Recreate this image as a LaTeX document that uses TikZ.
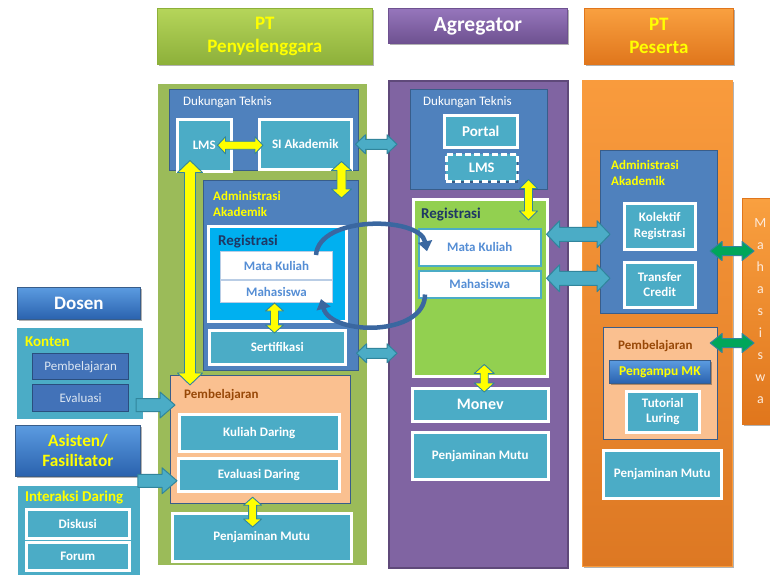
\documentclass[tikz,border=0pt]{standalone}
\usepackage{fontspec}
\setmainfont{Carlito}
\usetikzlibrary{calc,arrows.meta,shadows}

\definecolor{tealb}{HTML}{4BACC6}
\definecolor{tealdk}{HTML}{31859C}
\definecolor{blueb}{HTML}{4F81BD}
\definecolor{bluedk}{HTML}{385D8A}
\definecolor{greenc}{HTML}{9BBB59}
\definecolor{purplec}{HTML}{8064A2}
\definecolor{purpledk}{HTML}{5F497A}
\definecolor{peach}{HTML}{FAC090}
\definecolor{brownt}{HTML}{984807}
\definecolor{cyanr}{HTML}{00B0F0}
\definecolor{limeg}{HTML}{92D050}
\definecolor{navyt}{HTML}{1F3864}
\definecolor{mkblue}{HTML}{558ED5}
\definecolor{mkborder}{HTML}{B9CDE5}
\definecolor{curvb}{HTML}{3A67A0}
\definecolor{greena}{HTML}{00A65A}
\definecolor{yel}{HTML}{FFFF00}
\definecolor{kblue}{HTML}{4272B8}
\definecolor{kbluedk}{HTML}{2A4E7E}
\definecolor{ktext}{HTML}{DCE6F2}
\definecolor{gradT}{HTML}{5B9BE0}
\definecolor{gradB}{HTML}{2A62AE}
\definecolor{grnT}{HTML}{B5D55A}
\definecolor{grnB}{HTML}{8DB03A}
\definecolor{purT}{HTML}{9676BC}
\definecolor{purB}{HTML}{6E5190}
\definecolor{orT}{HTML}{F9A040}
\definecolor{orB}{HTML}{E0761C}
\definecolor{colOT}{HTML}{F99B3D}
\definecolor{colOB}{HTML}{DD7823}
\definecolor{mhstext}{HTML}{FDEADA}

\newcommand\myfHdr{\fontsize{19}{23}\selectfont\bfseries}
\newcommand\myfAg{\fontsize{21.5}{24}\selectfont\bfseries}
\newcommand\myfBox{\fontsize{13}{15.5}\selectfont\bfseries}
\newcommand\myfReg{\fontsize{13}{15.5}\selectfont}
\newcommand\myfRegi{\fontsize{15}{17}\selectfont\bfseries}
\newcommand\myfBig{\fontsize{15}{17}\selectfont\bfseries}

% horizontal double arrow: style, start, end, shaft half, head half, head length
\newcommand\myHD[6]{\path[#1] let \p1=(#2), \p2=(#3) in
 (\x1,\y1) -- (\x1+#6,\y1+#5) -- (\x1+#6,\y1+#4) -- (\x2-#6,\y1+#4) -- (\x2-#6,\y1+#5) -- (\x2,\y1)
 -- (\x2-#6,\y1-#5) -- (\x2-#6,\y1-#4) -- (\x1+#6,\y1-#4) -- (\x1+#6,\y1-#5) -- cycle;}
% vertical double arrow: start (top), end (bottom)
\newcommand\myVD[6]{\path[#1] let \p1=(#2), \p2=(#3) in
 (\x1,\y1) -- (\x1+#5,\y1-#6) -- (\x1+#4,\y1-#6) -- (\x1+#4,\y2+#6) -- (\x1+#5,\y2+#6) -- (\x1,\y2)
 -- (\x1-#5,\y2+#6) -- (\x1-#4,\y2+#6) -- (\x1-#4,\y1-#6) -- (\x1-#5,\y1-#6) -- cycle;}
% horizontal single arrow, at height of end
\newcommand\myHS[6]{\path[#1] let \p1=(#2), \p2=(#3) in
 (\x1,\y2+#4) -- (\x2-#6,\y2+#4) -- (\x2-#6,\y2+#5) -- (\x2,\y2) -- (\x2-#6,\y2-#5) -- (\x2-#6,\y2-#4) -- (\x1,\y2-#4) -- cycle;}

\begin{document}
\begin{tikzpicture}[x=1pt,y=-1pt,
  sz/.style 2 args={minimum width=#1pt, minimum height=#2pt},
  bx/.style={anchor=north west, inner sep=0pt, align=center, font=\myfBox, text=white},
  shd/.style={drop shadow={shadow xshift=1.2pt, shadow yshift=-1.5pt, opacity=0.3, fill=black}},
  hdr/.style={bx, font=\myfHdr, text=yel, line width=0.8pt, shd},
  tealbox/.style={bx, fill=tealb, draw=white, line width=2.5pt, shd},
  bluebox/.style={bx, fill=blueb, draw=bluedk, line width=1pt},
  peachbox/.style={bx, fill=peach, draw=bluedk, line width=1.2pt},
  gradbox/.style={bx, top color=gradT, bottom color=gradB, draw=bluedk, line width=0.8pt, shd},
  kbox/.style={bx, fill=kblue, draw=kbluedk, line width=1.3pt, text=ktext, font=\myfReg},
  wbox/.style={bx, fill=white, text=mkblue},
  ttl/.style={anchor=west, inner sep=0pt, font=\myfBox, align=left},
  yarrow/.style={fill=yel, draw=tealdk, line width=0.9pt, line join=round},
  tarrow/.style={fill=tealb, draw=tealdk, line width=1pt, line join=round},
  garrow/.style={fill=greena, draw=tealdk, line width=1pt, line join=round},
  curvarr/.style={draw=curvb, line width=4.5pt, -{Triangle[width=14pt,length=10pt]}}
]
\useasboundingbox (0,0) rectangle (770,574);
\fill[white] (0,0) rectangle (770,574);

% ---------- headers ----------
\node[hdr, top color=grnT, bottom color=grnB, draw=grnB, sz={215}{56}] (hpen) at (157,8) {PT\\Penyelenggara};
\node[hdr, top color=purT, bottom color=purB, draw=purB, text=white, font=\myfAg, sz={179}{35}] (hagg) at (388,8) {Agregator};
\node[hdr, top color=orT, bottom color=orB, draw=orB, sz={149}{56}] (hpes) at (584,8) {PT\\Peserta};

% ---------- columns ----------
\node[bx, fill=greenc, draw=white, line width=3pt, sz={212}{484}, shd] (colg) at (155,81) {};
\node[bx, fill=purplec, draw=purpledk, line width=1.5pt, sz={179}{487}] (colp) at (388,80) {};
\node[bx, top color=colOT, bottom color=colOB, draw=colOT, line width=1pt, sz={150}{486}, shd] (colo) at (582,80) {};

% ---------- PT Penyelenggara ----------
\node[bluebox, sz={189}{81}] (gdt) at (169,89) {};
\node[ttl, text=white, font=\myfReg] (gdtT) at (183,102) {Dukungan Teknis};
\node[tealbox, sz={54}{52}] (glms) at (176,118) {LMS};
\node[tealbox, sz={92}{50}] (gsi) at (258,118) {SI Akademik};

\node[bluebox, sz={155}{190}] (gadm) at (203,180) {};
\node[ttl, text=yel, font=\myfBox, align=left] (gadmT) at (213,204) {Administrasi\\Akademik};
\node[bx, fill=cyanr, draw=white, line width=2.5pt, sz={138}{95}] (greg) at (207,225) {};
\node[ttl, text=navyt, font=\myfRegi] (gregT) at (218,241) {Registrasi};
\node[wbox, draw=mkborder, line width=1pt, sz={112}{28}] (gmk) at (220,251) {Mata Kuliah};
\node[wbox, draw=mkborder, line width=1pt, sz={112}{22}] (gmhs) at (220,280) {Mahasiswa};
\node[tealbox, sz={136}{34}] (gsert) at (208,329) {Sertifikasi};

\node[peachbox, sz={180}{128}] (gpemb) at (170,375) {};
\node[ttl, text=brownt] (gpembT) at (184,395) {Pembelajaran};
\node[tealbox, sz={160}{37}] (gkd) at (178,413) {Kuliah Daring};
\node[tealbox, sz={161}{33}] (ged) at (177,457) {Evaluasi Daring};
\node[tealbox, sz={179}{48}] (gpm) at (171,512) {Penjaminan Mutu};

% ---------- left side ----------
\node[gradbox, font=\myfHdr, sz={123}{32}] (dosen) at (17,287) {Dosen};
\node[bx, fill=tealb, draw=white, line width=3pt, sz={129}{94}, shd] (konten) at (14,325) {};
\node[ttl, text=yel, font=\myfBig] (kontenT) at (25,342) {Konten};
\node[kbox, sz={96}{26}] (kpemb) at (32,353) {Pembelajaran};
\node[kbox, sz={96}{27}] (keval) at (32,384) {Evaluasi};

\node[gradbox, font=\fontsize{17.3}{20}\selectfont\bfseries, text=yel, sz={125}{51}] (asisten) at (15,425) {Asisten/\\Fasilitator};
\node[bx, fill=tealb, draw=white, line width=3pt, sz={125}{97}, shd] (interaksi) at (15,483) {};
\node[ttl, text=yel, font=\myfBig] (interaksiT) at (25,497) {Interaksi Daring};
\node[tealbox, sz={103}{29}] (diskusi) at (25,508) {Diskusi};
\node[tealbox, sz={103}{28}] (forum) at (25,541) {Forum};

% ---------- Agregator ----------
\node[bluebox, sz={137}{100}] (adt) at (410,89) {};
\node[ttl, text=white, font=\myfReg] (adtT) at (423,102) {Dukungan Teknis};
\node[tealbox, font=\fontsize{15}{17}\selectfont\bfseries, sz={73}{32}] (portal) at (443,114) {Portal};
\node[tealbox, dash pattern=on 6pt off 3pt, font=\fontsize{14.5}{17}\selectfont\bfseries, sz={71}{27}] (alms) at (445,153) {LMS};

\node[bx, fill=limeg, draw=white, line width=2.5pt, sz={134}{177}, shd] (areg) at (412,198) {};
\node[ttl, text=navyt, font=\myfRegi] (aregT) at (421,215) {Registrasi};
\node[wbox, draw=tealb, line width=1.5pt, sz={122}{37}] (amk) at (418,228) {Mata Kuliah};
\node[wbox, draw=tealb, line width=1.5pt, sz={122}{27}] (amhs) at (418,270) {Mahasiswa};
\node[tealbox, font=\fontsize{16}{18}\selectfont\bfseries, sz={136}{33}] (monev) at (411,387) {Monev};
\node[tealbox, sz={136}{47}] (apm) at (411,431) {Penjaminan Mutu};

% ---------- PT Peserta ----------
\node[bluebox, sz={117}{163}] (oadm) at (600,150) {};
\node[ttl, text=yel] (oadmT) at (611,173) {Administrasi\\Akademik};
\node[tealbox, sz={71}{46}] (kolektif) at (623,202) {Kolektif\\Registrasi};
\node[tealbox, sz={71}{45}] (transfer) at (623,261) {Transfer\\Credit};
\node[peachbox, sz={114}{112}] (opemb) at (603,327) {};
\node[ttl, text=brownt] (opembT) at (618,346) {Pembelajaran};
\node[gradbox, text=yel, font=\fontsize{13.5}{16}\selectfont\bfseries, sz={101}{23}] (pengampu) at (609,360) {Pengampu MK};
\node[tealbox, sz={73}{41}] (tutorial) at (625,390) {Tutorial\\Luring};
\node[tealbox, sz={118}{48}] (opm) at (602,449) {Penjaminan Mutu};

\node[bx, top color=orT, bottom color=orB, draw=orB, line width=0.8pt, text=mhstext,
      font=\fontsize{14}{22}\selectfont, sz={36}{226}, shd] (mhs) at (742,198)
      {M\\a\\h\\a\\s\\i\\s\\w\\a};

% ---------- yellow arrows ----------
\myHD{yarrow}{[xshift=-15pt]glms.east}{[xshift=5pt]gsi.west}{4pt}{8.5pt}{8pt}
\myVD{yarrow}{[xshift=-11pt,yshift=9pt]gsi.south east}{[yshift=-18pt]gadm.north}{4.5pt}{10pt}{9pt}
\myVD{yarrow}{[xshift=14pt,yshift=12pt]glms.south west}{[yshift=-10pt]gpemb.north}{5.5pt}{12.5pt}{12pt}
\myVD{yarrow}{[xshift=-2pt]gmhs.south}{[yshift=-4pt]gsert.north}{4pt}{9pt}{8pt}
\myVD{yarrow}{[xshift=-8pt,yshift=7pt]gpemb.south}{[yshift=-15pt]gpm.north}{4pt}{9pt}{8pt}
\myVD{yarrow}{[xshift=10pt,yshift=3pt]alms.south east}{[yshift=-22pt]areg.north}{4pt}{9pt}{9pt}
\myVD{yarrow}{[xshift=4pt,yshift=13pt]areg.south}{[yshift=-5pt]monev.north}{4pt}{10pt}{9pt}

% ---------- teal arrows ----------
\myHD{tarrow}{[xshift=3pt]gsi.east}{[xshift=9pt]colp.west}{5pt}{9.5pt}{10pt}
\myHD{tarrow}{[xshift=10pt,yshift=-6pt]gsert.east}{[xshift=9pt]colp.west}{5pt}{9.5pt}{10pt}
\myHD{tarrow}{[xshift=5pt,yshift=13pt]amk.east}{[xshift=-13pt]kolektif.west}{7pt}{13.5pt}{13pt}
\myHD{tarrow}{[xshift=5pt,yshift=6pt]amhs.east}{[xshift=-13pt]transfer.west}{7pt}{13.5pt}{13pt}
\myHS{tarrow}{[xshift=-10pt]konten.east}{[xshift=5pt,yshift=-30pt]gpemb.north west}{6.5pt}{13pt}{15pt}
\myHS{tarrow}{[xshift=-3pt]asisten.east}{[yshift=-6pt]ged.west}{6.5pt}{13pt}{15pt}

% ---------- green arrows ----------
\myHD{garrow}{[xshift=-8pt,yshift=-19pt]oadm.east}{[xshift=12pt]mhs.west}{4.5pt}{9.5pt}{12pt}
\myHD{garrow}{[xshift=-8pt,yshift=-16pt]opemb.north east}{[xshift=12pt]mhs.west}{4.5pt}{9.5pt}{12pt}

% ---------- curved arrows ----------
\draw[curvarr] ([xshift=-17pt,yshift=-4pt]gmk.north east) .. controls +(3,-40) and +(-7,-35) .. ([xshift=9pt,yshift=-4pt]amk.west);
\draw[curvarr] ([xshift=7pt,yshift=4pt]amhs.south west) .. controls +(0,42) and +(10,37) .. ([xshift=-12pt,yshift=4pt]gmhs.south east);
\end{tikzpicture}
\end{document}
